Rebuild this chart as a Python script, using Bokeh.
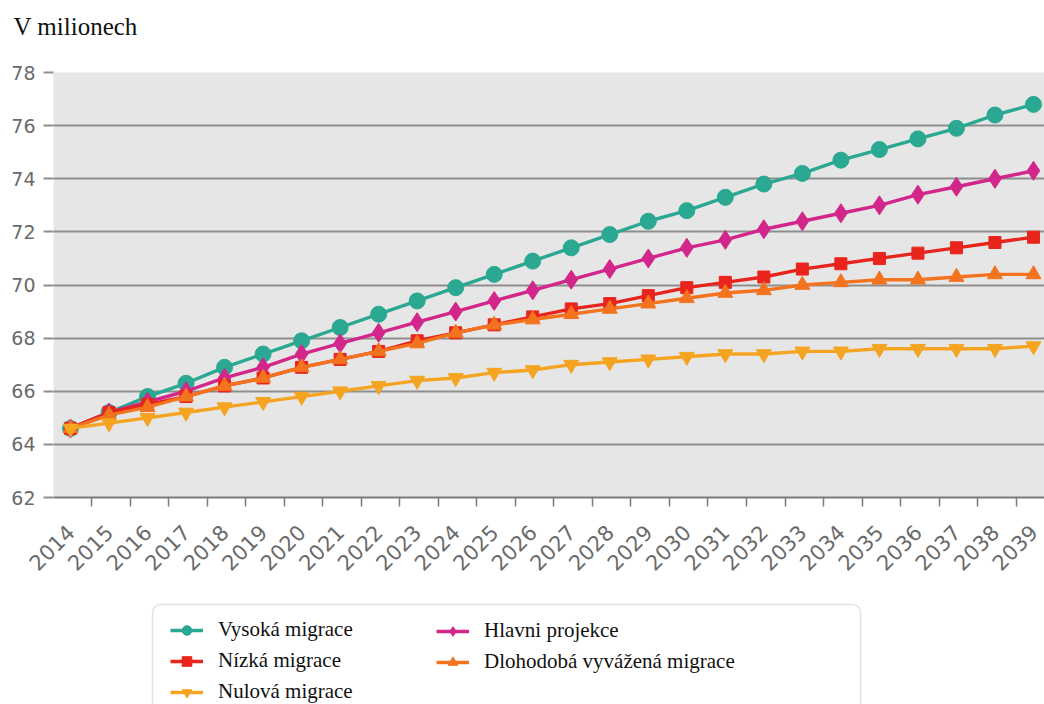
import math
from bokeh.plotting import figure
from bokeh.layouts import column
from bokeh.models import FixedTicker, Legend, LegendItem, Range1d, BoxAnnotation
from bokeh.embed import file_html
from bokeh.resources import INLINE

years = list(range(2014, 2040))

vysoka = [64.6, 65.2, 65.8, 66.3, 66.9, 67.4, 67.9, 68.4, 68.9, 69.4, 69.9, 70.4, 70.9,
          71.4, 71.9, 72.4, 72.8, 73.3, 73.8, 74.2, 74.7, 75.1, 75.5, 75.9, 76.4, 76.8]
hlavni = [64.6, 65.2, 65.6, 66.0, 66.5, 66.9, 67.4, 67.8, 68.2, 68.6, 69.0, 69.4, 69.8,
          70.2, 70.6, 71.0, 71.4, 71.7, 72.1, 72.4, 72.7, 73.0, 73.4, 73.7, 74.0, 74.3]
nizka = [64.6, 65.2, 65.5, 65.8, 66.2, 66.5, 66.9, 67.2, 67.5, 67.9, 68.2, 68.5, 68.8,
         69.1, 69.3, 69.6, 69.9, 70.1, 70.3, 70.6, 70.8, 71.0, 71.2, 71.4, 71.6, 71.8]
dlohodoba = [64.6, 65.1, 65.4, 65.8, 66.2, 66.5, 66.9, 67.2, 67.5, 67.8, 68.2, 68.5, 68.7,
             68.9, 69.1, 69.3, 69.5, 69.7, 69.8, 70.0, 70.1, 70.2, 70.2, 70.3, 70.4, 70.4]
nulova = [64.6, 64.8, 65.0, 65.2, 65.4, 65.6, 65.8, 66.0, 66.2, 66.4, 66.5, 66.7, 66.8,
          67.0, 67.1, 67.2, 67.3, 67.4, 67.4, 67.5, 67.5, 67.6, 67.6, 67.6, 67.6, 67.7]

y_ticks = [62, 64, 66, 68, 70, 72, 74, 76, 78]

series = [
    ("Vysoká migrace", vysoka, "#2aa891", "circle", 16),
    ("Hlavni projekce", hlavni, "#d3268b", "diamond", 19),
    ("Nízká migrace", nizka, "#e8241c", "square", 12),
    ("Dlohodobá vyvážená migrace", dlohodoba, "#f3731f", "triangle", 15),
    ("Nulová migrace", nulova, "#f5a421", "inverted_triangle", 15),
]
legend_col1 = ["Vysoká migrace", "Nízká migrace", "Nulová migrace"]
legend_col2 = ["Hlavni projekce", "Dlohodobá vyvážená migrace"]

# ---------------- main chart ----------------
p = figure(width=1044, height=600, output_backend="svg", toolbar_location=None,
           x_range=Range1d(2013.559, 2039.286), y_range=Range1d(62, 78),
           min_border_left=53, min_border_right=0, min_border_top=72, min_border_bottom=103)
p.background_fill_color = "#e6e6e6"
p.border_fill_color = "white"
p.outline_line_color = None

p.title.text = "V milionech"
p.title.text_font = "Liberation Serif"
p.title.text_font_size = "25px"
p.title.text_font_style = "normal"
p.title.text_color = "#111111"
p.title.offset = -40
p.title.standoff = 0
p.title.padding = dict(left=0, right=0, top=0, bottom=33)

p.xgrid.visible = False
p.ygrid.grid_line_color = "#8e8e8e"
p.ygrid.grid_line_width = 2

p.yaxis.ticker = FixedTicker(ticks=y_ticks)
p.yaxis.axis_line_color = None
p.yaxis.major_tick_line_color = "#8e8e8e"
p.yaxis.major_tick_line_width = 2
p.yaxis.major_tick_out = 10
p.yaxis.major_tick_in = 0
p.yaxis.minor_tick_line_color = None
p.yaxis.major_label_text_font = "DejaVu Sans"
p.yaxis.major_label_text_font_size = "19px"
p.yaxis.major_label_text_color = "#6a6a6a"
p.yaxis.major_label_standoff = 8

p.xaxis.ticker = FixedTicker(ticks=years, minor_ticks=[y + 0.55 for y in years[:-1]])
p.xaxis.major_label_overrides = {y: str(y) for y in years}
p.xaxis.axis_line_color = "#7a7a7a"
p.xaxis.axis_line_width = 2
p.xaxis.major_tick_line_color = None
p.xaxis.minor_tick_line_color = "#7a7a7a"
p.xaxis.minor_tick_line_width = 1.5
p.xaxis.minor_tick_out = 9
p.xaxis.minor_tick_in = 0
p.xaxis.major_tick_out = 0
p.xaxis.major_tick_in = 0
p.xaxis.major_label_orientation = math.pi / 4
p.xaxis.major_label_text_font = "DejaVu Sans"
p.xaxis.major_label_text_font_size = "21px"
p.xaxis.major_label_text_color = "#6a6a6a"
p.xaxis.major_label_standoff = 22

for name, vals, color, marker, size in series:
    p.line(years, vals, line_color=color, line_width=3.4)
    p.scatter(years, vals, marker=marker, size=size, fill_color=color, line_color=color)

# ---------------- legend strip ----------------
# ranges in pixel-like units so the legend box can be placed by page position
q = figure(width=1044, height=104, output_backend="svg", toolbar_location=None,
           x_range=Range1d(53, 1044), y_range=Range1d(0, 104),
           x_axis_location=None, y_axis_location=None,
           min_border_left=0, min_border_right=0, min_border_top=0, min_border_bottom=0)
q.grid.visible = False
q.outline_line_color = None
q.background_fill_color = "white"

items = {}
for name, vals, color, marker, size in series:
    ln = q.line(years, vals, line_color=color, line_width=3.4)
    sc = q.scatter(years, vals, marker=marker, size=size, fill_color=color, line_color=color)
    items[name] = LegendItem(label=name, renderers=[ln, sc])

q.add_layout(BoxAnnotation(left=152, right=860, top=100, bottom=-8, fill_color=None,
                           fill_alpha=0, line_color="#a0a0a0", line_width=1.5,
                           border_radius=8))

legend_style = dict(label_text_font="Liberation Serif", label_text_font_size="21px",
                    label_text_color="#111111", glyph_width=33, glyph_height=24,
                    label_height=24, label_standoff=15, spacing=6, padding=0, margin=0,
                    border_line_color=None, background_fill_alpha=0)
leg1 = Legend(items=[items[n] for n in legend_col1], location=(117, 0), **legend_style)
leg2 = Legend(items=[items[n] for n in legend_col2], location=(383, 30), **legend_style)
q.add_layout(leg1, "center")
q.add_layout(leg2, "center")

layout = column(p, q, spacing=0)
open("out.html", "w").write(file_html(layout, INLINE))
